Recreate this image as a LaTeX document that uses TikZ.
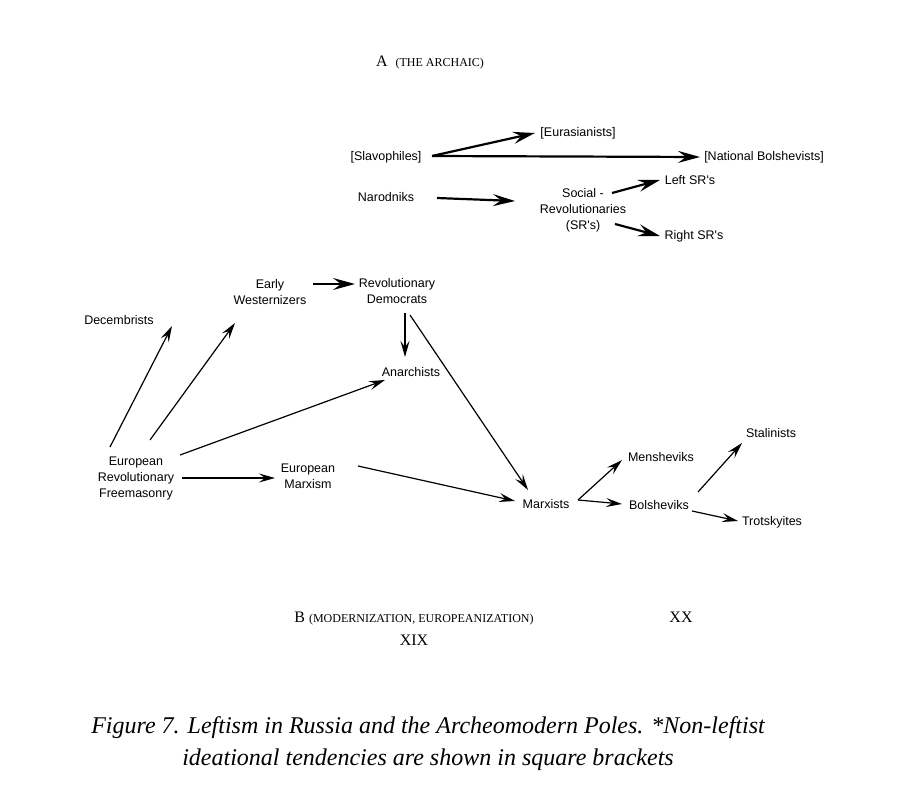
\documentclass[tikz,border=0pt]{standalone}
\usepackage{fontspec}
\setmainfont{Liberation Serif}
\newfontfamily\lab{Liberation Sans}
\usetikzlibrary{arrows.meta}
\newcommand{\fsc}[1]{{\fontsize{12}{14}\selectfont #1}}
\begin{document}
\begin{tikzpicture}[x=1pt,y=-1pt,
  lb/.style={font=\lab\fontsize{12.5}{16}\selectfont,align=center,inner sep=1pt},
  ar/.style={line width=1.2pt,-{Stealth[length=16pt,width=9pt,inset=6pt]}},
  arb/.style={line width=2.2pt,-{Stealth[length=22pt,width=12pt,inset=8pt]}},
  hd/.style={font=\fontsize{16}{18}\selectfont}]
\useasboundingbox (0,0) rectangle (910,802);
\node[hd] (A) at (430,62) {A \ \fsc{(THE ARCHAIC)}};
\node[lb] (sla) at (386,157) {[Slavophiles]};
\node[lb] (eur) at (578,133) {[Eurasianists]};
\node[lb] (nb) at (764,157) {[National Bolshevists]};
\node[lb] (nar) at (386,197) {Narodniks};
\node[lb] (sr) at (583,210) {Social -\\Revolutionaries\\(SR's)};
\node[lb] (lsr) at (690,180) {Left SR's};
\node[lb] (rsr) at (694,236) {Right SR's};
\node[lb] (ew) at (270,292) {Early\\Westernizers};
\node[lb] (rd) at (397,291) {Revolutionary\\Democrats};
\node[lb] (dec) at (119,320) {Decembrists};
\node[lb] (ana) at (411,372) {Anarchists};
\node[lb] (erf) at (136,478) {European\\Revolutionary\\Freemasonry};
\node[lb] (em) at (308,476) {European\\Marxism};
\node[lb] (mar) at (546,504) {Marxists};
\node[lb] (men) at (661,457) {Mensheviks};
\node[lb] (bol) at (659,505) {Bolsheviks};
\node[lb] (sta) at (771,433) {Stalinists};
\node[lb] (tro) at (772,522) {Trotskyites};
\node[hd] (B) at (414,619) {B \fsc{(MODERNIZATION, EUROPEANIZATION)}};
\node[hd] (xix) at (414,640) {XIX};
\node[hd] (xx) at (681,617) {XX};
\node[font=\itshape\fontsize{24}{32}\selectfont,align=center] (cap) at (428,744)
 {Figure 7. Leftism in Russia and the Archeomodern Poles. *Non-leftist\\ideational tendencies are shown in square brackets};
% endpoints
\foreach \n/\x/\y in {a1/432/156,a2/535/133,b2/700/157,c1/437/198,c2/515/201,
  d1/612/193,d2/660/180,e1/615/224,e2/660/236,f1/313/284,f2/355/284,
  g1/110/447,g2/172/326,h1/150/440,h2/235/323,i1/180/455,i2/385/380,
  j1/182/478,j2/275/478,k1/358/466,k2/515/501,l1/405/313,l2/405/357,
  m1/410/315,m2/528/490,n1/578/500,n2/622/460,o2/622/504,p1/698/492,p2/742/443,
  q1/692/511,q2/738/521}
  \coordinate (\n) at (\x,\y);
\draw[arb] (a1) -- (a2);
\draw[arb] (a1) -- (b2);
\draw[arb] (c1) -- (c2);
\draw[arb] (d1) -- (d2);
\draw[arb] (e1) -- (e2);
\draw[arb] (f1) -- (f2);
\draw[ar] (g1) -- (g2);
\draw[ar] (h1) -- (h2);
\draw[ar] (i1) -- (i2);
\draw[ar] (j1) -- (j2);
\draw[ar] (k1) -- (k2);
\draw[ar] (l1) -- (l2);
\draw[ar] (m1) -- (m2);
\draw[ar] (n1) -- (n2);
\draw[ar] (n1) -- (o2);
\draw[ar] (p1) -- (p2);
\draw[ar] (q1) -- (q2);
\end{tikzpicture}
\end{document}
